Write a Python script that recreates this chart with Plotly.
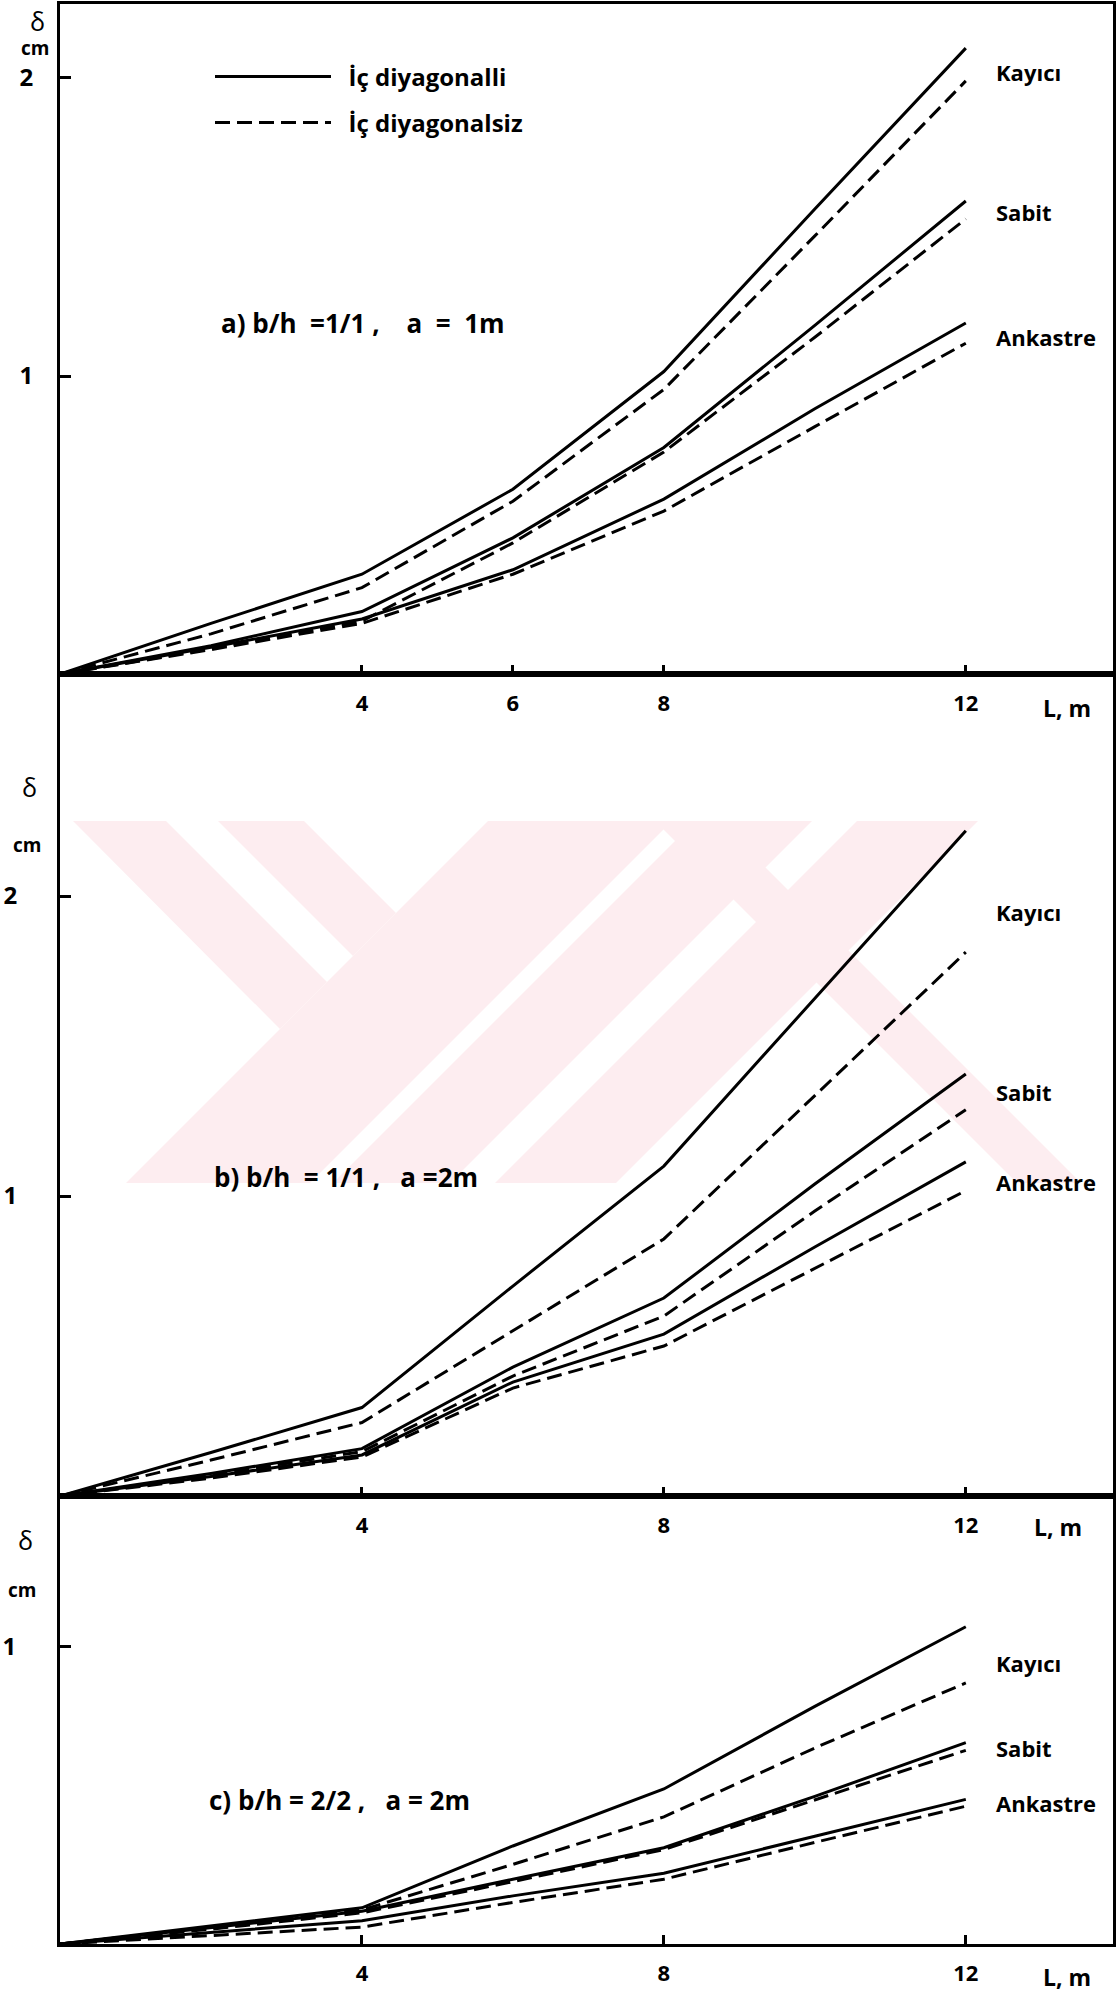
import plotly.graph_objects as go

# ---------------- data ----------------
L = [0, 2, 4, 6, 8, 10, 12]

# a) b/h = 1/1 , a = 1 m
a_kayici_ic = [0, 0.17, 0.335, 0.62, 1.015, 1.56, 2.10]
a_kayici_siz = [0, 0.135, 0.29, 0.58, 0.955, 1.47, 1.99]
a_sabit_ic = [0, 0.095, 0.21, 0.457, 0.76, 1.17, 1.587]
a_sabit_siz = [0, 0.085, 0.178, 0.44, 0.745, 1.13, 1.527]
a_ankastre_ic = [0, 0.09, 0.185, 0.35, 0.587, 0.89, 1.178]
a_ankastre_siz = [0, 0.082, 0.17, 0.335, 0.547, 0.83, 1.11]

# b) b/h = 1/1 , a = 2 m
b_kayici_ic = [0, 0.145, 0.295, 0.70, 1.10, 1.66, 2.218]
b_kayici_siz = [0, 0.12, 0.245, 0.55, 0.857, 1.335, 1.813]
b_sabit_ic = [0, 0.075, 0.158, 0.43, 0.66, 1.04, 1.407]
b_sabit_siz = [0, 0.07, 0.148, 0.40, 0.60, 0.95, 1.288]
b_ankastre_ic = [0, 0.065, 0.137, 0.38, 0.54, 0.83, 1.114]
b_ankastre_siz = [0, 0.06, 0.13, 0.36, 0.50, 0.76, 1.018]

# c) b/h = 2/2 , a = 2 m
c_kayici_ic = [0, 0.06, 0.122, 0.33, 0.522, 0.80, 1.068]
c_kayici_siz = [0, 0.055, 0.115, 0.268, 0.428, 0.66, 0.879]
c_sabit_ic = [0, 0.055, 0.11, 0.218, 0.324, 0.497, 0.678]
c_sabit_siz = [0, 0.05, 0.105, 0.21, 0.318, 0.485, 0.652]
c_ankastre_ic = [0, 0.04, 0.078, 0.162, 0.238, 0.363, 0.487]
c_ankastre_siz = [0, 0.028, 0.057, 0.14, 0.218, 0.342, 0.464]

support_names = ["Kayıcı", "Sabit", "Ankastre"]
legend_names = ["İç diyagonalli", "İç diyagonalsiz"]
panel_titles = ["a) b/h\u00a0 =1/1 ,\u00a0\u00a0\u00a0 a\u00a0 = \u00a01m",
                "b) b/h\u00a0 = 1/1 ,\u00a0\u00a0 a =2m",
                "c) b/h = 2/2 ,\u00a0\u00a0 a = 2m"]
x_ticks = [[4, 6, 8, 12], [4, 8, 12], [4, 8, 12]]
y_ticks = [[1, 2], [1, 2], [1]]

# label heights next to the curve ends (data units)
a_label_y = [2.02, 1.55, 1.13]
b_label_y = [1.947, 1.347, 1.047]
c_label_y = [0.946, 0.66, 0.476]

panels = [
    dict(series=[(a_kayici_ic, a_kayici_siz), (a_sabit_ic, a_sabit_siz),
                 (a_ankastre_ic, a_ankastre_siz)], labels=a_label_y),
    dict(series=[(b_kayici_ic, b_kayici_siz), (b_sabit_ic, b_sabit_siz),
                 (b_ankastre_ic, b_ankastre_siz)], labels=b_label_y),
    dict(series=[(c_kayici_ic, c_kayici_siz), (c_sabit_ic, c_sabit_siz),
                 (c_ankastre_ic, c_ankastre_siz)], labels=c_label_y),
]

# ---------------- layout geometry ----------------
W, H = 1116, 1992
M_T, M_B, M_L, M_R = 4, 48, 60, 3
domains = [[0.6546, 1.0], [0.2309, 0.6546], [0.0, 0.2309]]
y_ranges = [[0, 2.248], [0, 2.74], [0, 1.508]]
x_range = [0, 13.95]
ytick_standoff = [19, 35, 36]
FONT = "'Open Sans', Lato, sans-serif"
DASH = "15px,7px"
BOLD = "bold"
WATERMARK = "#fdedf0"
LEGEND_PAD = "\u00a0\u00a0"


def px_to_paper(px, py):
    return (px - M_L) / (W - M_L - M_R), (H - M_B - py) / (H - M_T - M_B)


def poly_path(points):
    pts = [px_to_paper(x, y) for x, y in points]
    return "M " + " L ".join(f"{x:.5f},{y:.5f}" for x, y in pts) + " Z"


# faint background watermark of the scanned page (pixel polygons, band y 821..1183)
WM_TOP, WM_BOT = 821, 1183


def slash_band(c1, c2):
    # band between lines x + y = c1 and x + y = c2, cut to the watermark strip
    return [(c1 - WM_TOP, WM_TOP), (c2 - WM_TOP, WM_TOP),
            (c2 - WM_BOT, WM_BOT), (c1 - WM_BOT, WM_BOT)]


def back_band(d1, d2):
    # band between lines x - y = d1 and x - y = d2
    return [(d1 + WM_TOP, WM_TOP), (d2 + WM_TOP, WM_TOP),
            (d2 + WM_BOT, WM_BOT), (d1 + WM_BOT, WM_BOT)]


watermark_polys = [
    [(73, 821), (166, 821), (327, 982), (280, 1029)],
    [(218, 821), (304, 821), (396, 913), (353, 956)],
    slash_band(1309, 1493),
    slash_band(1516, 1633),
    slash_band(1678, 1799),
    back_band(-166, -102),
]
shapes = [dict(type="path", path=poly_path(p), xref="paper", yref="paper",
               fillcolor=WATERMARK, line=dict(width=0), layer="below")
          for p in watermark_polys]

fig = go.Figure()

# legend entries (two independent legends so each sample line sits where the original does)
fig.add_trace(go.Scatter(x=[None], y=[None], mode="lines", name=LEGEND_PAD + legend_names[0],
                         line=dict(color="black", width=3), legend="legend",
                         xaxis="x", yaxis="y"))
fig.add_trace(go.Scatter(x=[None], y=[None], mode="lines", name=LEGEND_PAD + legend_names[1],
                         line=dict(color="black", width=3, dash=DASH), legend="legend2",
                         xaxis="x", yaxis="y"))

annotations = []
for i, p in enumerate(panels):
    xa = "x" if i == 0 else f"x{i+1}"
    ya = "y" if i == 0 else f"y{i+1}"
    for (ic, siz), name in zip(p["series"], support_names):
        fig.add_trace(go.Scatter(x=L, y=ic, mode="lines", showlegend=False,
                                 name=name + " – " + legend_names[0],
                                 line=dict(color="black", width=3),
                                 xaxis=xa, yaxis=ya))
        fig.add_trace(go.Scatter(x=L, y=siz, mode="lines", showlegend=False,
                                 name=name + " – " + legend_names[1],
                                 line=dict(color="black", width=3, dash=DASH),
                                 xaxis=xa, yaxis=ya))
    for name, yy in zip(support_names, p["labels"]):
        annotations.append(dict(x=12.37, y=yy, xref=xa, yref=ya, text=name,
                                showarrow=False, xanchor="left", yanchor="middle",
                                font=dict(size=22, family=FONT, weight=BOLD)))

# panel titles (left edge, centre height, in pixels of the original)
title_px = [(219, 323), (212, 1177), (207, 1800)]
for i, (tx, ty) in enumerate(title_px):
    px, py = px_to_paper(tx, ty)
    annotations.append(dict(x=px, y=py, xref="paper", yref="paper", text=panel_titles[i],
                            showarrow=False, xanchor="left", yanchor="middle",
                            font=dict(size=26, family=FONT, weight=BOLD)))

# axis unit labels (pixel centres in the original)
delta_px = [(37, 21), (29, 787), (25, 1540)]
cm_px = [(35, 48), (27, 845), (22, 1590)]
lm_px = [(1067, 708), (1058, 1527), (1067, 1977)]
for i in range(3):
    dx, dy = px_to_paper(*delta_px[i])
    cx, cy = px_to_paper(*cm_px[i])
    lx, ly = px_to_paper(*lm_px[i])
    annotations.append(dict(x=dx, y=dy, xref="paper", yref="paper", text="δ",
                            xanchor="center", yanchor="middle",
                            showarrow=False, font=dict(size=25, family=FONT)))
    annotations.append(dict(x=cx, y=cy, xref="paper", yref="paper", text="cm",
                            xanchor="center", yanchor="middle",
                            showarrow=False, font=dict(size=19, family=FONT, weight=BOLD)))
    annotations.append(dict(x=lx, y=ly, xref="paper", yref="paper", text="L, m",
                            xanchor="center", yanchor="middle",
                            showarrow=False, font=dict(size=23, family=FONT, weight=BOLD)))

axis_common = dict(showline=True, linewidth=3, linecolor="black", mirror=True,
                   showgrid=False, zeroline=False, ticks="inside", tickwidth=3,
                   tickcolor="black", fixedrange=True, automargin=False)

lg1 = px_to_paper(210, 77)
lg2 = px_to_paper(210, 123)
legend_common = dict(xanchor="left", yanchor="middle", bgcolor="rgba(0,0,0,0)",
                     font=dict(size=24, family=FONT, weight=BOLD), itemwidth=116)

layout = dict(
    width=W, height=H, autosize=False,
    margin=dict(t=M_T, b=M_B, l=M_L, r=M_R, pad=0, autoexpand=False),
    paper_bgcolor="white", plot_bgcolor="rgba(0,0,0,0)",
    font=dict(family=FONT, color="black"),
    showlegend=True,
    legend=dict(legend_common, x=lg1[0], y=lg1[1]),
    legend2=dict(legend_common, x=lg2[0], y=lg2[1]),
    annotations=annotations,
    shapes=shapes,
)
for i in range(3):
    xk = "xaxis" if i == 0 else f"xaxis{i+1}"
    yk = "yaxis" if i == 0 else f"yaxis{i+1}"
    ya = "y" if i == 0 else f"y{i+1}"
    xa = "x" if i == 0 else f"x{i+1}"
    layout[xk] = dict(axis_common, anchor=ya, domain=[0, 1], range=x_range,
                      tickvals=x_ticks[i], ticklen=9, ticklabelstandoff=8,
                      tickfont=dict(size=22, family=FONT, weight=BOLD))
    layout[yk] = dict(axis_common, anchor=xa, domain=domains[i], range=y_ranges[i],
                      tickvals=y_ticks[i], ticklen=11,
                      ticklabelstandoff=ytick_standoff[i],
                      tickfont=dict(size=24, family=FONT, weight=BOLD))

fig.update_layout(**layout)
fig.write_html("out.html", config={"displayModeBar": False},
               post_script="document.body.style.margin='0px';document.body.style.padding='0px';")
